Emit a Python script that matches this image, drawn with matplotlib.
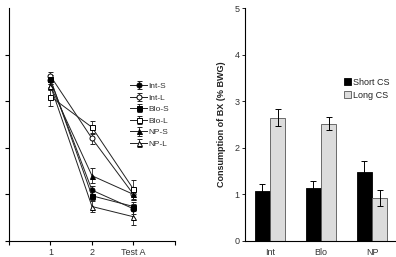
import matplotlib
matplotlib.use("Agg")
import matplotlib.pyplot as plt
import numpy as np

plt.rcParams['font.family'] = ['Liberation Sans', 'DejaVu Sans']

# Left panel: line data
trials = ["1", "2", "Test A"]
series_names = ["Int-S", "Int-L", "Blo-S", "Blo-L", "NP-S", "NP-L"]
int_s = [3.45, 1.09, 0.69]
int_l = [3.54, 2.20, 1.00]
blo_s = [3.47, 0.97, 0.74]
blo_l = [3.10, 2.44, 1.11]
np_s = [3.33, 1.40, 1.00]
np_l = [3.33, 0.74, 0.52]
int_s_err = [0.08, 0.10, 0.10]
int_l_err = [0.08, 0.12, 0.12]
blo_s_err = [0.10, 0.10, 0.10]
blo_l_err = [0.20, 0.14, 0.20]
np_s_err = [0.10, 0.16, 0.12]
np_l_err = [0.10, 0.12, 0.18]

# Right panel: bar data
groups = ["Int", "Blo", "NP"]
short_cs = [1.07, 1.13, 1.49]
long_cs = [2.65, 2.52, 0.93]
short_err = [0.15, 0.16, 0.22]
long_err = [0.19, 0.14, 0.17]

fig = plt.figure(figsize=(3.96, 2.57), dpi=100)

ax1 = fig.add_axes([9/396, 16/257, 166/396, 233/257])
x = np.arange(1, 4)
styles = [
    (int_s, int_s_err, 'o', 'black'),
    (int_l, int_l_err, 'o', 'white'),
    (blo_s, blo_s_err, 's', 'black'),
    (blo_l, blo_l_err, 's', 'white'),
    (np_s, np_s_err, '^', 'black'),
    (np_l, np_l_err, '^', 'white'),
]
for name, (vals, errs, m, fc) in zip(series_names, styles):
    ax1.errorbar(x, vals, yerr=errs, color='#222222', marker=m, markerfacecolor=fc,
                 markeredgecolor='black', markersize=3.6, markeredgewidth=0.7,
                 linewidth=0.7, elinewidth=0.6, capsize=1.8, capthick=0.6, label=name)
ax1.set_xlim(0, 4)
ax1.set_ylim(0, 5)
ax1.set_xticks([0, 1, 2, 3, 4])
ax1.set_xticklabels(["", trials[0], trials[1], trials[2], ""], fontsize=6.5,
                    color='#333333')
ax1.set_yticks([0, 1, 2, 3, 4])
ax1.set_yticklabels([])
for s in ['top', 'right']:
    ax1.spines[s].set_visible(False)
ax1.tick_params(direction='out', length=3, width=0.8, pad=2)
ax1.tick_params(axis='x', pad=2)
ax1.legend(loc='upper left', bbox_to_anchor=(126/396, 1-78/257),
           bbox_transform=fig.transFigure, frameon=False, fontsize=6,
           handlelength=2.0, handletextpad=0.2, labelspacing=0.45,
           borderpad=0, labelcolor='#333333')

ax2 = fig.add_axes([245/396, 16/257, 151/396, 233/257])
xb = np.arange(len(groups))
w = 0.3
ax2.bar(xb - w/2, short_cs, w, yerr=short_err, color='black', edgecolor='black',
        linewidth=0.6, label='Short CS',
        error_kw=dict(elinewidth=0.7, capsize=2, capthick=0.7, ecolor='black'))
ax2.bar(xb + w/2, long_cs, w, yerr=long_err, color='#dcdcdc', edgecolor='#555555',
        linewidth=0.6, label='Long CS',
        error_kw=dict(elinewidth=0.7, capsize=2, capthick=0.7, ecolor='black'))
ax2.set_xlim(-0.49, 2.47)
ax2.set_ylim(0, 5)
ax2.set_xticks(xb)
ax2.set_xticklabels(groups, fontsize=6.5, color='#333333')
ax2.tick_params(axis='x', length=0, pad=5)
ax2.tick_params(axis='y', direction='out', length=2, width=0.6, labelsize=6.5, pad=2,
                labelcolor='#333333')
ax2.set_yticks([0, 1, 2, 3, 4, 5])
for s in ['top', 'right']:
    ax2.spines[s].set_visible(False)
ax2.set_ylabel("Consumption of BX (% BWG)", fontsize=6.5, fontweight='bold', labelpad=6,
               color='#222222')
ax2.legend(loc='upper left', bbox_to_anchor=(339/396, 1-73/257),
           bbox_transform=fig.transFigure, frameon=False, fontsize=6.5,
           handlelength=0.8, handleheight=0.8, handletextpad=0.2,
           labelspacing=0.5, borderpad=0, labelcolor='#222222')

fig.savefig("out.png", dpi=100)
